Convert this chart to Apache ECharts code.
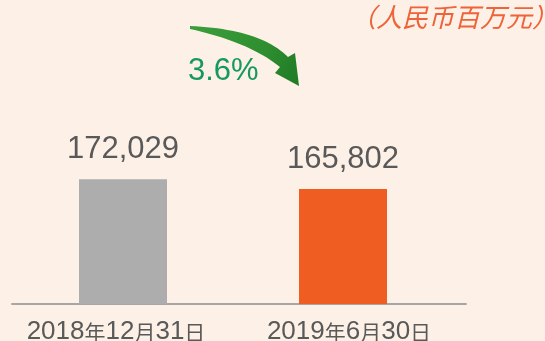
<!DOCTYPE html>
<html>
<head>
<meta charset="utf-8">
<script src="https://cdn.jsdelivr.net/npm/echarts@6/dist/echarts.min.js"></script>
<style>
  html, body { margin: 0; padding: 0; background: #FDF0E7; }
  #chart { width: 545px; height: 341px; }
</style>
</head>
<body>
<div id="chart"></div>
<script>
// Balance at each reporting date (RMB millions)
const categories = ['2018年12月31日', '2019年6月30日'];
const values = [172029, 165802];
const barColors = ['#ADADAD', '#F05D23'];
const changeLabel = '3.6%';
const unitLabel = '（人民币百万元）';

const textGrey = '#595959';
const fontLatin = 'Arial, "Liberation Sans", sans-serif';
const fontCJK = '"Noto Sans CJK SC", sans-serif';

function thousands(v) {
  return String(v).replace(/\B(?=(\d{3})+(?!\d))/g, ',');
}

// Split a date label into digit runs and CJK characters so each can use its own size
function richDate(label, index) {
  const parts = label.match(/\d+|[^\d]+/g) || [];
  let out = parts.map(p => /\d/.test(p) ? '{n|' + p + '}' : '{c|' + p + '}').join('');
  // nudge each label a little off its bar centre
  if (index === 0) out = out + '{sp0|}';
  else out = '{sp1|}' + out;
  return out;
}

// Points along a quadratic curve, for the outline of the curved arrow
function quad(p0, c, p2, steps) {
  const pts = [];
  for (let i = 0; i <= steps; i++) {
    const t = i / steps, u = 1 - t;
    pts.push([
      u * u * p0[0] + 2 * u * t * c[0] + t * t * p2[0],
      u * u * p0[1] + 2 * u * t * c[1] + t * t * p2[1]
    ]);
  }
  return pts;
}
const arrowOutline = []
  .concat(quad([190, 26], [260, 29], [288, 57], 24))
  .concat([[295, 53], [299, 86], [275, 73]])
  .concat(quad([280, 67], [249, 42], [190, 29], 24));

const chart = echarts.init(document.getElementById('chart'), null, { renderer: 'canvas' });

const option = {
  backgroundColor: '#FDF0E7',
  animation: false,
  grid: [
    { left: 13, right: 92, top: 176, bottom: 37, containLabel: false, outerBoundsMode: 'none' },
    { left: 12, right: 79, top: 176, bottom: 37, containLabel: false, outerBoundsMode: 'none' }
  ],
  xAxis: [
    {
      type: 'category',
      gridIndex: 0,
      data: categories,
      axisLine: { show: false },
      axisTick: { show: false },
      axisLabel: {
        interval: 0,
        hideOverlap: false,
        margin: 15,
        fontSize: 26,
        fontFamily: fontLatin,
        color: textGrey,
        formatter: richDate,
        rich: {
          n: { fontSize: 26, fontFamily: fontLatin, color: textGrey },
          c: { fontSize: 21, fontFamily: fontCJK, color: textGrey },
          sp0: { width: 14 },
          sp1: { width: 12 }
        }
      }
    },
    {
      type: 'category',
      gridIndex: 1,
      data: [''],
      axisLine: { show: true, lineStyle: { color: '#A6A6A6', width: 2 } },
      axisTick: { show: false },
      axisLabel: { show: false }
    }
  ],
  yAxis: [
    { type: 'value', gridIndex: 0, min: 94000, max: 174000, show: false },
    { type: 'value', gridIndex: 1, min: 0, max: 1, show: false }
  ],
  series: [
    {
      type: 'bar',
      xAxisIndex: 0,
      yAxisIndex: 0,
      barWidth: 88,
      data: values.map((v, i) => ({ value: v, itemStyle: { color: barColors[i] } })),
      label: {
        show: true,
        position: 'top',
        distance: 14,
        fontSize: 31,
        fontFamily: fontLatin,
        color: textGrey,
        formatter: p => thousands(p.value)
      }
    }
  ],
  graphic: [
    {
      type: 'text',
      x: 558,
      y: 17,
      style: {
        text: unitLabel,
        font: 'italic 26px ' + fontCJK,
        fill: '#EE6338',
        textAlign: 'right',
        textVerticalAlign: 'middle'
      }
    },
    {
      type: 'text',
      x: 188,
      y: 71,
      style: {
        text: changeLabel,
        font: '31px ' + fontLatin,
        fill: '#16995C',
        textAlign: 'left',
        textVerticalAlign: 'middle'
      }
    },
    {
      // curved downward arrow
      type: 'polygon',
      shape: { points: arrowOutline },
      style: {
        fill: {
          type: 'linear', x: 0, y: 0, x2: 1, y2: 1,
          colorStops: [
            { offset: 0, color: '#3A9E3A' },
            { offset: 0.6, color: '#2F8F30' },
            { offset: 1, color: '#1F7A25' }
          ]
        }
      }
    }
  ]
};

chart.setOption(option);
</script>
</body>
</html>
